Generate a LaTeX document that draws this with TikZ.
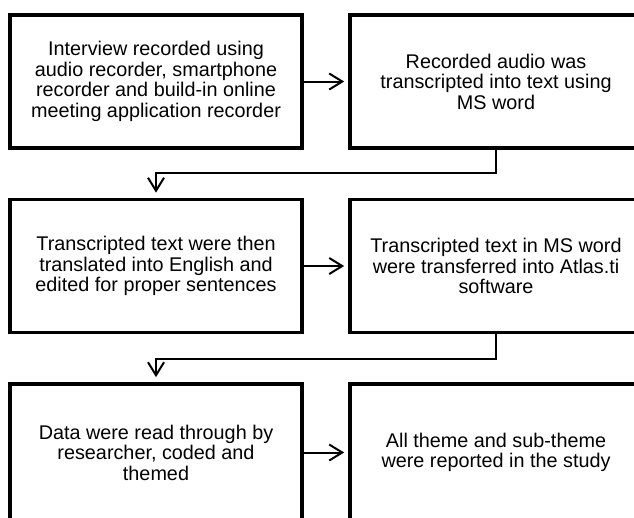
\documentclass[tikz,border=0pt]{standalone}
\usepackage{fontspec}
\setmainfont{Liberation Sans}
\usetikzlibrary{arrows.meta}
\begin{document}
\begin{tikzpicture}[x=1pt,y=-1pt,
  stepbox/.style={draw=black, line width=3.7pt, rectangle, minimum width=292pt, minimum height=133pt,
    align=center, font=\fontsize{19.8}{20.5}\selectfont, inner sep=0pt},
  lastbox/.style={stepbox, minimum height=137pt},
  conn/.style={draw=black, line width=2pt, -{Straight Barb[length=13pt,width=16pt,line width=2pt]}, shorten >=5pt}
]
\useasboundingbox (0,0) rectangle (634,517);
\clip (0,0) rectangle (634,517);
\fill[white] (0,0) rectangle (634,517);
\node[stepbox] (l1) at (156,81.5) {Interview recorded using\\audio recorder, smartphone\\recorder and build-in online\\meeting application recorder};
\node[stepbox] (r1) at (496,81.5) {Recorded audio was\\transcripted into text using\\MS word};
\node[stepbox] (l2) at (156,266) {Transcripted text were then\\translated into English and\\edited for proper sentences};
\node[stepbox] (r2) at (496,266) {Transcripted text in MS word\\were transferred into Atlas.ti\\software};
\node[lastbox] (l3) at (156,452.5) {Data were read through by\\researcher, coded and\\themed};
\node[lastbox] (r3) at (496,452.5) {All theme and sub-theme\\were reported in the study};
\coordinate (e1) at (156,173);
\coordinate (e2) at (156,358.5);
\draw[conn, shorten >=4pt] (l1) -- (r1);
\draw[conn, shorten >=4pt] (l2) -- (r2);
\draw[conn, shorten >=4pt] (l3) -- (r3);
\draw[conn] (r1.south) |- (e1) -- (l2.north);
\draw[conn] (r2.south) |- (e2) -- (l3.north);
\end{tikzpicture}
\end{document}
